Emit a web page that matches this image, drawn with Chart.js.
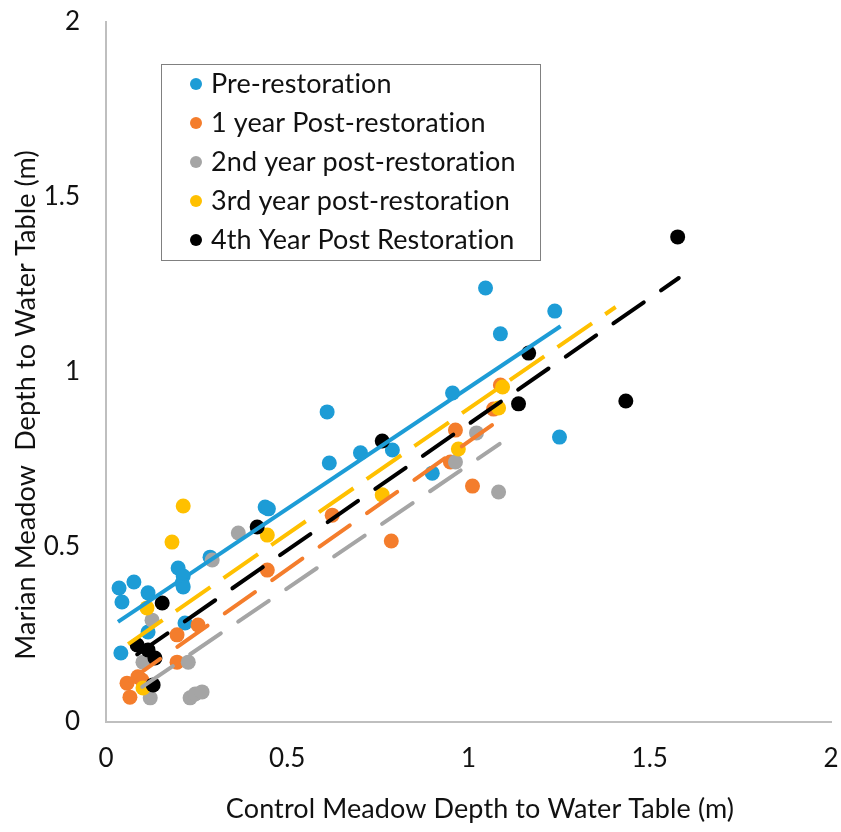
<!DOCTYPE html>
<html>
<head>
<meta charset="utf-8">
<script src="https://cdn.jsdelivr.net/npm/chart.js@4.4.1/dist/chart.umd.min.js"></script>
<style>
  html, body { margin: 0; padding: 0; background: #fff; }
  #wrap { width: 841px; height: 832px; }
</style>
</head>
<body>
<div id="wrap"><canvas id="chart" width="841" height="832"></canvas></div>
<script>
// series names
const seriesNames = ['Pre-restoration', '1 year Post-restoration', '2nd year post-restoration',
                     '3rd year post-restoration', '4th Year Post Restoration'];

// control meadow depth (x) and Marian meadow depth (y)
const preX = [0.036, 0.044, 0.077, 0.116, 0.041, 0.116, 0.218, 0.21, 0.199, 0.213, 0.213, 0.287,
              0.439, 0.448, 0.61, 0.616, 0.702, 0.79, 0.956, 0.90, 1.047, 1.088, 1.238, 1.251];
const preY = [0.383, 0.343, 0.40, 0.369, 0.197, 0.257, 0.283, 0.397, 0.44, 0.417, 0.386, 0.471,
              0.614, 0.609, 0.886, 0.74, 0.769, 0.777, 0.94, 0.711, 1.24, 1.109, 1.174, 0.814];

const year1X = [0.058, 0.066, 0.088, 0.099, 0.196, 0.196, 0.254, 0.445, 0.624, 0.787, 0.964, 0.95, 1.011, 1.088, 1.069];
const year1Y = [0.111, 0.071, 0.129, 0.12, 0.171, 0.249, 0.277, 0.434, 0.591, 0.517, 0.834, 0.743, 0.674, 0.963, 0.894];

const year2X = [0.127, 0.102, 0.122, 0.232, 0.246, 0.265, 0.227, 0.293, 0.365, 1.022, 0.964, 1.083];
const year2Y = [0.291, 0.171, 0.069, 0.069, 0.08, 0.086, 0.171, 0.463, 0.54, 0.826, 0.743, 0.657];

const year3X = [0.213, 0.182, 0.113, 0.102, 0.445, 0.762, 0.972, 1.094, 1.083];
const year3Y = [0.617, 0.514, 0.326, 0.097, 0.534, 0.649, 0.78, 0.957, 0.897];

const year4X = [1.577, 1.434, 1.138, 1.166, 0.762, 0.417, 0.155, 0.086, 0.116, 0.135, 0.13];
const year4Y = [1.386, 0.917, 0.909, 1.054, 0.803, 0.557, 0.34, 0.22, 0.206, 0.183, 0.106];

// linear trendlines as shown on the picture (y = slope * x + intercept)
const trendSlope = [0.692, 0.73, 0.704, 0.716, 0.72];
const trendIntercept = [0.263, 0.071, 0.03, 0.179, 0.131];
const trendFromX = [0.033, 0.066, 0.10, 0.061, 0.086];
const trendToX = [1.254, 1.088, 1.086, 1.406, 1.58];

// axis ticks and titles
const axisTicks = [0, 0.5, 1, 1.5, 2];
const xTitle = 'Control Meadow Depth to Water Table (m)';
const yTitle = 'Marian Meadow  Depth to Water Table (m)';

const colors = ['#1d9cd6', '#f47d2c', '#a5a5a5', '#ffc000', '#000000'];
const dashes = [[], [37, 21], [37, 21], [42, 16], [37, 21]];
const caps = ['butt', 'round', 'round', 'butt', 'round'];

const allX = [preX, year1X, year2X, year3X, year4X];
const allY = [preY, year1Y, year2Y, year3Y, year4Y];

function trendPoints(i) {
    return [trendFromX[i], trendToX[i]].map(x => ({ x: x, y: trendSlope[i] * x + trendIntercept[i] }));
}

const datasets = [];
seriesNames.forEach((name, i) => {
    datasets.push({
        label: name,
        data: allX[i].map((x, j) => ({ x: x, y: allY[i][j] })),
        backgroundColor: colors[i],
        borderColor: colors[i],
        pointRadius: 7.5,
        pointHoverRadius: 7.5,
        borderWidth: 0,
        showLine: false,
        order: 20 - i
    });
});
seriesNames.forEach((name, i) => {
    datasets.push({
        label: name + ' trend',
        data: trendPoints(i),
        borderColor: colors[i],
        borderWidth: 4,
        borderDash: dashes[i],
        borderCapStyle: caps[i],
        pointRadius: 0,
        showLine: true,
        fill: false,
        order: 10 - i
    });
});

// legend box inside the plot area, plus both axis titles
const boxLegend = {
    id: 'boxLegend',
    afterDraw(chart) {
        const ctx = chart.ctx;
        const area = chart.chartArea;
        const left = area.left + 55, top = area.top + 42;
        const w = 379, h = 196;
        ctx.save();
        ctx.fillStyle = '#fff';
        ctx.fillRect(left, top, w, h);
        ctx.strokeStyle = '#808080';
        ctx.lineWidth = 1;
        ctx.strokeRect(left + 0.5, top + 0.5, w, h);
        ctx.font = '27px Lato';
        ctx.letterSpacing = '0.1px';
        ctx.textBaseline = 'middle';
        seriesNames.forEach((name, i) => {
            const y = top + 20 + i * 39;
            ctx.fillStyle = colors[i];
            ctx.beginPath();
            ctx.arc(left + 35, y, 6, 0, Math.PI * 2);
            ctx.fill();
            ctx.fillStyle = '#111';
            ctx.fillText(name, left + 50, y);
        });

        // x axis title
        ctx.textAlign = 'center';
        ctx.fillText(xTitle, 480, 809);

        // y axis title
        ctx.translate(26, 405);
        ctx.rotate(-Math.PI / 2);
        ctx.fillText(yTitle, 0, 0);
        ctx.restore();
    }
};

new Chart(document.getElementById('chart'), {
    type: 'scatter',
    data: { datasets: datasets },
    options: {
        responsive: false,
        devicePixelRatio: 1,
        animation: false,
        layout: { padding: { top: 22, right: 10, left: 0, bottom: 0 } },
        plugins: {
            legend: { display: false },
            tooltip: { enabled: false }
        },
        scales: {
            x: {
                type: 'linear',
                min: 0,
                max: 2,
                afterBuildTicks: (s) => { s.ticks = axisTicks.map(v => ({ value: v })); },
                afterFit: (s) => { s.height = 110; s.paddingLeft = 0; s.paddingRight = 0; },
                grid: { display: false },
                border: { display: true, color: '#bfbfbf', width: 2 },
                ticks: {
                    color: '#111',
                    font: { family: 'Lato', size: 26 },
                    padding: 13,
                    callback: (v) => String(v)
                }
            },
            y: {
                type: 'linear',
                min: 0,
                max: 2,
                afterBuildTicks: (s) => { s.ticks = axisTicks.map(v => ({ value: v })); },
                afterFit: (s) => { s.width = 106; s.paddingTop = 0; s.paddingBottom = 0; },
                grid: { display: false },
                border: { display: true, color: '#bfbfbf', width: 2 },
                ticks: {
                    color: '#111',
                    font: { family: 'Lato', size: 26 },
                    padding: 18,
                    callback: (v) => String(v)
                }
            }
        }
    },
    plugins: [boxLegend]
});
</script>
</body>
</html>
